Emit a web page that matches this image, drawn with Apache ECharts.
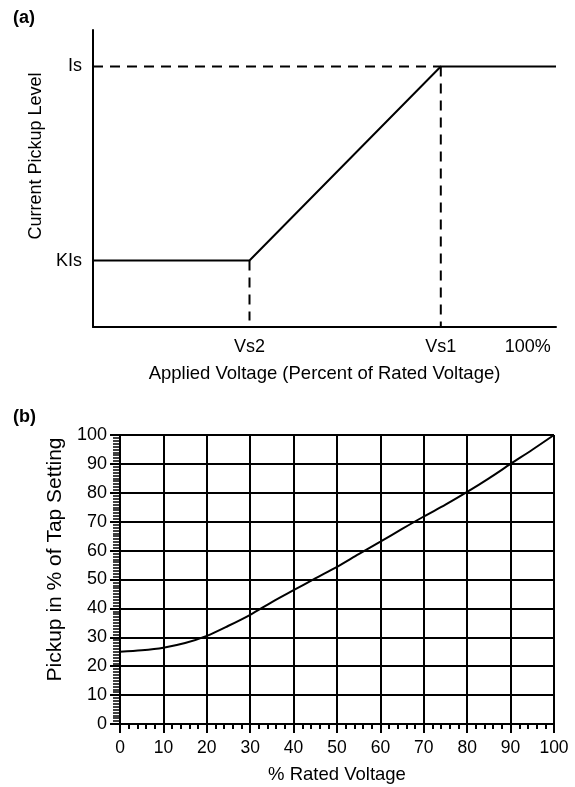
<!DOCTYPE html>
<html>
<head>
<meta charset="utf-8">
<script src="https://cdn.jsdelivr.net/npm/echarts@6/dist/echarts.min.js"></script>
<style>
  html, body { margin: 0; padding: 0; background: #fff; }
  #chart { width: 575px; height: 787px; }
</style>
</head>
<body>
<div id="chart"></div>
<script>
// (a) idealised pickup characteristic, x in % of rated voltage, y in % of Is
const levelNames = ['KIs', 'Is'];
const levelValues = [25.5, 100];
const voltageNames = ['Vs2', 'Vs1', '100%'];
const voltageValues = [36, 80, 100];
const voltageAxisMax = 106.5;
const levelAxisMax = 114;

// (b) measured pickup curve
const ratedVoltage = [0, 5, 10, 15, 20, 25, 30, 35, 40, 45, 50, 55, 60, 65, 70, 75, 80, 85, 90, 95, 100];
const pickupPercent = [25, 25.5, 26.4, 28, 30.5, 34, 37.8, 42.2, 46.3, 50.4, 54.4, 58.8, 63.1, 67.5, 71.8, 75.9, 80.3, 85, 90, 94.9, 100];
const tickValues = [0, 10, 20, 30, 40, 50, 60, 70, 80, 90, 100];

const FONT = "'Liberation Sans', Arial, sans-serif";
const INK = '#000';

const kIs = levelValues[0], is = levelValues[1];
const vs2 = voltageValues[0], vs1 = voltageValues[1];

const characteristic = [[0, kIs], [vs2, kIs], [vs1, is], [voltageAxisMax, is]];
const dashIs = [[0, is], [vs1, is]];
const dashVs2 = [[vs2, kIs], [vs2, 2.5]];
const dashVs1 = [[vs1, is], [vs1, 0]];

const curve = ratedVoltage.map((v, i) => [v, pickupPercent[i]]);

const text = size => ({ color: INK, fontFamily: FONT, fontSize: size });

const chart = echarts.init(document.getElementById('chart'), null, { renderer: 'canvas' });

chart.setOption({
  backgroundColor: '#fff',
  animation: false,
  title: [
    { text: '(a)', left: 13, top: 9, padding: 0, textStyle: { ...text(18), fontWeight: 'bold' } },
    { text: '(b)', left: 13, top: 408, padding: 0, textStyle: { ...text(18), fontWeight: 'bold' } }
  ],
  grid: [
    { left: 93, top: 30, width: 463, height: 297, containLabel: false },
    { left: 120, top: 435, width: 434, height: 289, containLabel: false }
  ],
  xAxis: [
    {
      gridIndex: 0, type: 'value', min: 0, max: voltageAxisMax,
      name: 'Applied Voltage (Percent of Rated Voltage)',
      nameLocation: 'middle', nameGap: 37,
      nameTextStyle: text(18.5),
      axisLine: { show: true, onZero: false, lineStyle: { color: INK, width: 2 } },
      axisTick: { show: false },
      splitLine: { show: false },
      axisLabel: {
        customValues: voltageValues,
        margin: 11,
        ...text(18),
        formatter: v => voltageNames[voltageValues.indexOf(v)]
      }
    },
    {
      gridIndex: 1, type: 'value', min: 0, max: 100, interval: 10,
      name: '% Rated Voltage',
      nameLocation: 'middle', nameGap: 41,
      nameTextStyle: text(18.5),
      axisLine: { show: true, onZero: false, lineStyle: { color: INK, width: 2 } },
      axisTick: { show: true, length: 9, lineStyle: { color: INK, width: 2 } },
      minorTick: { show: true, splitNumber: 5, length: 5, lineStyle: { color: INK, width: 2 } },
      splitLine: { show: true, lineStyle: { color: INK, width: 2 } },
      axisLabel: { margin: 15, ...text(17.5), customValues: tickValues }
    }
  ],
  yAxis: [
    {
      gridIndex: 0, type: 'value', min: 0, max: levelAxisMax,
      name: 'Current Pickup Level',
      nameLocation: 'middle', nameGap: 47,
      nameTextStyle: { ...text(18), padding: [0, 0, 0, 45] },
      axisLine: { show: true, onZero: false, lineStyle: { color: INK, width: 2 } },
      axisTick: { show: false },
      splitLine: { show: false },
      axisLabel: {
        customValues: levelValues,
        margin: 11,
        ...text(18),
        formatter: v => levelNames[levelValues.indexOf(v)]
      }
    },
    {
      gridIndex: 1, type: 'value', min: 0, max: 100, interval: 10,
      name: 'Pickup in % of Tap Setting',
      nameLocation: 'middle', nameGap: 52,
      nameTextStyle: { ...text(21), padding: [0, 0, 0, 40] },
      axisLine: { show: true, onZero: false, lineStyle: { color: INK, width: 2 } },
      axisTick: { show: true, length: 10, lineStyle: { color: INK, width: 2 } },
      minorTick: { show: true, splitNumber: 10, length: 7, lineStyle: { color: INK, width: 1.5 } },
      splitLine: { show: true, lineStyle: { color: INK, width: 2 } },
      axisLabel: { margin: 13, ...text(18) }
    }
  ],
  series: [
    {
      type: 'line', xAxisIndex: 0, yAxisIndex: 0, data: dashIs,
      symbol: 'none', lineStyle: { color: INK, width: 2, type: [10, 7] }, z: 3
    },
    {
      type: 'line', xAxisIndex: 0, yAxisIndex: 0, data: dashVs2,
      symbol: 'none', lineStyle: { color: INK, width: 2, type: [10, 7] }, z: 3
    },
    {
      type: 'line', xAxisIndex: 0, yAxisIndex: 0, data: dashVs1,
      symbol: 'none', lineStyle: { color: INK, width: 2, type: [10, 7] }, z: 3
    },
    {
      type: 'line', xAxisIndex: 0, yAxisIndex: 0, data: characteristic,
      symbol: 'none', lineStyle: { color: INK, width: 2 }, z: 4
    },
    {
      type: 'line', xAxisIndex: 1, yAxisIndex: 1, data: curve,
      smooth: 0.3, symbol: 'none', lineStyle: { color: INK, width: 2 }, z: 4
    }
  ]
});
</script>
</body>
</html>
